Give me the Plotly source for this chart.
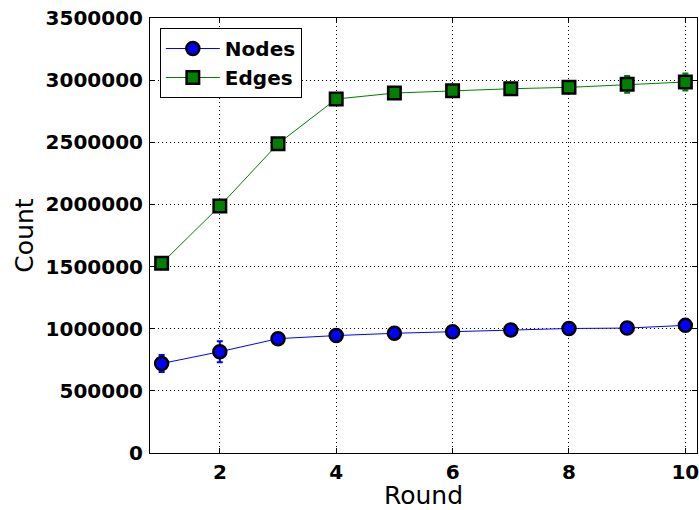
import plotly.graph_objects as go

rounds = [1, 2, 3, 4, 5, 6, 7, 8, 9, 10]
nodes = [720000, 815000, 920000, 945000, 963000, 975000, 990000, 1002000, 1005000, 1027000]
nodes_err = [68000, 85000, 10000, 12000, 8000, 10000, 8000, 10000, 10000, 12000]
edges = [1526000, 1987000, 2488000, 2848000, 2896000, 2915000, 2931000, 2942000, 2966000, 2985000]
edges_err = [15000, 20000, 15000, 40000, 20000, 20000, 30000, 25000, 68000, 68000]
y_ticks = [0, 500000, 1000000, 1500000, 2000000, 2500000, 3000000, 3500000]
x_ticks = [2, 4, 6, 8, 10]

fig = go.Figure()
fig.add_trace(go.Scatter(
    x=rounds, y=nodes, name="Nodes", mode="lines+markers",
    line=dict(color="#0000ff", width=1),
    marker=dict(symbol="circle", size=13, color="#0000ff", line=dict(color="black", width=2.5)),
    error_y=dict(type="data", array=nodes_err, color="#0000ff", thickness=2, width=3),
    cliponaxis=False,
))
fig.add_trace(go.Scatter(
    x=rounds, y=edges, name="Edges", mode="lines+markers",
    line=dict(color="#008000", width=1),
    marker=dict(symbol="square", size=12.5, color="#008000", line=dict(color="black", width=2.5)),
    error_y=dict(type="data", array=edges_err, color="#008000", thickness=2, width=3),
    cliponaxis=False,
))

tickfont = dict(family="DejaVu Sans", size=20, color="black", weight="bold")
axis_common = dict(
    showline=True, linecolor="black", linewidth=1, mirror="allticks",
    ticks="inside", ticklen=5, tickcolor="black",
    showgrid=True, gridcolor="black", gridwidth=1, griddash="1px,3px",
    zeroline=False, tickfont=tickfont, automargin=False,
    ticklabeloverflow="allow",
)
fig.update_xaxes(range=[0.8, 10.2], tickvals=x_ticks, ticktext=[str(v) for v in x_ticks],
                 title=dict(text="Round", font=dict(family="DejaVu Sans", size=25, color="black"), standoff=8),
                 ticklabelstandoff=1, **axis_common)
fig.update_yaxes(range=[0, 3500000], tickvals=y_ticks, ticktext=[str(v) for v in y_ticks],
                 title=dict(text="Count", font=dict(family="DejaVu Sans", size=25, color="black"), standoff=4),
                 ticklabelstandoff=2, **axis_common)

fig.update_layout(
    width=699, height=510,
    margin=dict(l=150, r=2, t=18, b=57),
    plot_bgcolor="white", paper_bgcolor="white",
    legend=dict(x=0.018, y=0.977, xanchor="left", yanchor="top",
                bordercolor="black", borderwidth=1, bgcolor="white",
                font=dict(family="DejaVu Sans", size=20, color="black", weight="bold"),
                itemwidth=54, tracegroupgap=2),
)
fig.write_html(
    "out.html",
    config={"displayModeBar": False},
    post_script="document.body.style.margin='0';document.body.style.overflow='hidden';",
)
